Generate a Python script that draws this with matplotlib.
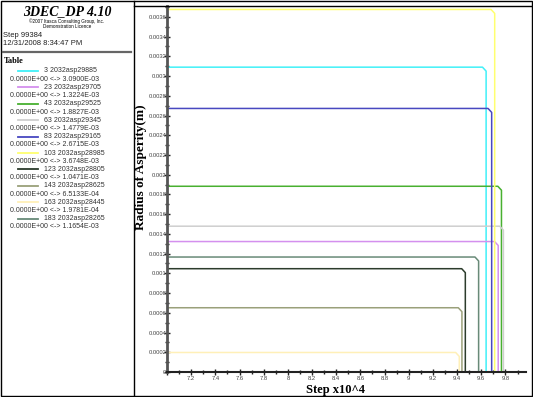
import matplotlib.pyplot as plt
from matplotlib.lines import Line2D
from matplotlib.patches import Rectangle
from matplotlib.ticker import MultipleLocator, FuncFormatter

# asperity history: id, record name, max radius (m), step where it drops (x10^4)
ids = [3, 23, 43, 63, 83, 103, 123, 143, 163, 183]
names = ['2032asp29885', '2032asp29705', '2032asp29525', '2032asp29345',
         '2032asp29165', '2032asp28985', '2032asp28805', '2032asp28625',
         '2032asp28445', '2032asp28265']
rmax = [3.0900e-3, 1.3224e-3, 1.8827e-3, 1.4779e-3, 2.6715e-3,
        3.6748e-3, 1.0471e-3, 6.5133e-4, 1.9781e-4, 1.1654e-3]
drop_step = [9.640, 9.740, 9.767, 9.783, 9.686,
             9.711, 9.468, 9.440, 9.418, 9.578]
colors = ['#40f0f8', '#d490ee', '#48b030', '#cfcfcf', '#4848c0',
          '#ffff70', '#2c3c2c', '#9aa07a', '#fff0b8', '#688a78']
step0 = 7.0

W, H = 533, 397
fig = plt.figure(figsize=(W / 100, H / 100), dpi=100)
fig.patch.set_facecolor('white')

def fx(px):
    return px / W

def fy(py):
    return 1 - py / H

ax = fig.add_axes([fx(167), fy(372), fx(526) - fx(167), fy(6) - fy(372)])

dx, dy = 0.03, 0.00004
for r, xd, c in zip(rmax, drop_step, colors):
    ax.plot([step0, xd - dx, xd, xd], [r, r, r - dy, 0], color=c, lw=1.1,
            solid_joinstyle='round')

ax.set_xlim(step0, 9.97)
ax.set_ylim(0, 0.00371)
ax.xaxis.set_major_locator(MultipleLocator(0.2))
ax.xaxis.set_minor_locator(MultipleLocator(0.1))
ax.yaxis.set_major_locator(MultipleLocator(0.0002))
ax.yaxis.set_minor_locator(MultipleLocator(0.0001))
ax.xaxis.set_major_formatter(FuncFormatter(lambda v, p: '' if abs(v - step0) < 1e-6 else f'{v:g}'))
ax.yaxis.set_major_formatter(FuncFormatter(lambda v, p: f'{round(v, 6):g}'))
ax.tick_params(which='both', direction='inout', labelsize=4.2, colors='#222222',
               labelcolor='#444444')
ax.tick_params(axis='y', pad=-1.5)
ax.tick_params(axis='x', pad=1)
ax.tick_params(which='major', length=4, width=1)
ax.tick_params(which='minor', length=3, width=1)
for lab in ax.get_xticklabels() + ax.get_yticklabels():
    lab.set_family('Liberation Sans')
for s in ['top', 'right']:
    ax.spines[s].set_visible(False)
ax.spines['left'].set_linewidth(2)
ax.spines['left'].set_color('#555555')
ax.spines['bottom'].set_linewidth(1.5)
ax.spines['bottom'].set_color('#222222')

ax.set_xlabel('Step x10^4', family='Liberation Serif', fontweight='bold',
              fontsize=9)
ax.xaxis.set_label_coords(0.468, -0.048, transform=ax.transAxes)
ax.xaxis.label.set_va('center')
ax.set_ylabel('Radius of Asperity(m)', family='Liberation Serif',
              fontweight='bold', fontsize=9.5)
ax.yaxis.set_label_coords(-0.056, 0.56, transform=ax.transAxes)

# frames
fig.add_artist(Rectangle((fx(1), fy(396)), fx(531), fy(1) - fy(396),
                         transform=fig.transFigure, fill=False, lw=1, ec='black'))
fig.add_artist(Line2D([fx(134), fx(134)], [fy(1), fy(396)], lw=1, color='black'))
fig.add_artist(Line2D([fx(134), fx(532)], [fy(6), fy(6)], lw=1, color='black'))

# left info panel
fig.text(fx(67), fy(12), '3DEC_DP 4.10', family='Liberation Serif',
         fontweight='bold', style='italic', fontsize=10, ha='center', va='center')
fig.text(fx(67), fy(21.5), '\u00a92007 Itasca Consulting Group, Inc.',
         family='Liberation Sans', fontsize=3.3, ha='center', va='center')
fig.text(fx(67), fy(26), 'Demonstration Licence',
         family='Liberation Sans', fontsize=3.3, ha='center', va='center')
fig.text(fx(3), fy(35.5), 'Step 99384', family='Liberation Sans', fontsize=5.5,
         va='center', color='#222222')
fig.text(fx(3), fy(43.5), '12/31/2008 8:34:47 PM', family='Liberation Sans',
         fontsize=5.5, va='center', color='#222222')
fig.add_artist(Line2D([fx(3), fx(131)], [fy(51.5), fy(51.5)], lw=1.6, color='#666666'))
fig.text(fx(4), fy(61), 'Table', family='Liberation Serif', fontweight='bold',
         fontsize=6, va='center')

row0, row_h = 71, 16.4
for i in range(len(ids)):
    y1 = row0 + i * row_h
    fig.add_artist(Line2D([fx(18), fx(38)], [fy(y1), fy(y1)], lw=1.3, color=colors[i]))
    fig.text(fx(44), fy(y1), f'{ids[i]} {names[i]}', family='Liberation Sans',
             fontsize=5, va='center', color='#333333')
    fig.text(fx(10), fy(y1 + 8.3), f'0.0000E+00 <-> {rmax[i]:.4E}',
             family='Liberation Sans', fontsize=5, va='center', color='#333333')

fig.savefig('out.png', dpi=100)
